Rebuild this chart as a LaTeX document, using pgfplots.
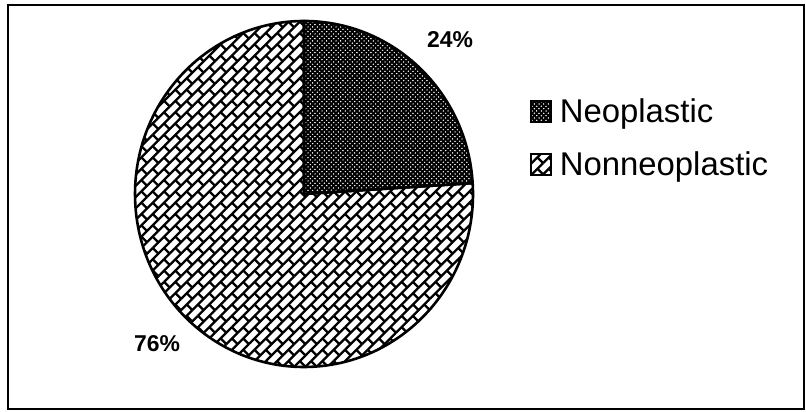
\documentclass[border=0pt]{standalone}
\usepackage{fontspec}
\setmainfont{Liberation Sans}
\usepackage{pgfplots}
\usepackage{pgfplotstable}
\pgfplotsset{compat=1.18}
\usetikzlibrary{patterns.meta}

% diagonal brick hatch (Nonneoplastic)
\pgfdeclarepattern{
  name=brickdiag, type=uncolored,
  bottom left={\pgfpoint{-1.5bp}{-1.5bp}},
  top right={\pgfpoint{17.5bp}{17.5bp}},
  tile size={\pgfpoint{16bp}{16bp}},
  tile transformation={\pgftransformrotate{45}},
  code={
    \pgfsetlinewidth{2.3bp}
    \pgfpathmoveto{\pgfpoint{0bp}{0bp}}\pgfpathlineto{\pgfpoint{16bp}{0bp}}
    \pgfpathmoveto{\pgfpoint{0bp}{8bp}}\pgfpathlineto{\pgfpoint{16bp}{8bp}}
    \pgfpathmoveto{\pgfpoint{0bp}{0bp}}\pgfpathlineto{\pgfpoint{0bp}{8bp}}
    \pgfpathmoveto{\pgfpoint{8bp}{8bp}}\pgfpathlineto{\pgfpoint{8bp}{16bp}}
    \pgfusepath{stroke}
  }
}
% fine diagonal crosshatch (Neoplastic)
\pgfdeclarepattern{
  name=finecross, type=uncolored,
  bottom left={\pgfpoint{-1bp}{-1bp}},
  top right={\pgfpoint{4.3bp}{4.3bp}},
  tile size={\pgfpoint{3.3bp}{3.3bp}},
  tile transformation={\pgftransformrotate{45}},
  code={
    \pgfsetlinewidth{1.9bp}
    \pgfpathmoveto{\pgfpoint{0bp}{0bp}}\pgfpathlineto{\pgfpoint{3.3bp}{0bp}}
    \pgfpathmoveto{\pgfpoint{0bp}{0bp}}\pgfpathlineto{\pgfpoint{0bp}{3.3bp}}
    \pgfusepath{stroke}
  }
}

\pgfplotstableread{
label value
Neoplastic 24
Nonneoplastic 76
}\piedata

\begin{document}
\begin{tikzpicture}
\pgfplotstablegetelem{0}{value}\of\piedata \let\va\pgfplotsretval
\pgfplotstablegetelem{1}{value}\of\piedata \let\vb\pgfplotsretval
\pgfmathsetmacro\aone{90-3.6*\va}
\pgfmathsetmacro\atwo{\aone-3.6*\vb}
\pgfmathsetmacro\px{304+169*cos(\aone)}
\pgfmathsetmacro\py{218+173*sin(\aone)}
\begin{axis}[
    width=806bp, height=412bp, scale only axis,
    xmin=0, xmax=806, ymin=0, ymax=412,
    hide axis, clip=false,
    legend cell align=left,
    legend style={draw=none, fill=none, inner sep=0pt, outer sep=0pt,
        at={(axis description cs:0.6576,0.7573)}, anchor=north west,
        row sep=30bp, column sep=8bp,
        font=\fontsize{33}{39}\selectfont,
        nodes={inner sep=0pt, text height=23bp, text depth=0pt}},
]
\path (axis cs:0,0) rectangle (axis cs:806,412);
% frame
\draw[line width=2.8bp] (axis cs:8,3) rectangle (axis cs:804,407);
% slices
\filldraw[pattern=finecross, line width=2.6bp, line join=round]
    (axis cs:304,218) -- (axis cs:304,391)
    arc[start angle=90, end angle=\aone, x radius=169bp, y radius=173bp] -- cycle;
\filldraw[pattern=brickdiag, line width=2.6bp, line join=round]
    (axis cs:304,218) -- (axis cs:\px,\py)
    arc[start angle=\aone, end angle=\atwo, x radius=169bp, y radius=173bp] -- cycle;
% labels
\node[font=\fontsize{23}{27}\selectfont\bfseries] at (axis cs:450,372) {\va\%};
\node[font=\fontsize{23}{27}\selectfont\bfseries] at (axis cs:157,68) {\vb\%};
% legend
\addlegendimage{legend image code/.code={\filldraw[pattern=finecross, line width=1.8bp] (0bp,-10.5bp) rectangle (20bp,10.5bp);}}
\addlegendentry{Neoplastic}
\addlegendimage{legend image code/.code={\filldraw[pattern=brickdiag, line width=1.8bp] (0bp,-10.5bp) rectangle (20bp,10.5bp);}}
\addlegendentry{Nonneoplastic}
\end{axis}
\end{tikzpicture}
\end{document}
